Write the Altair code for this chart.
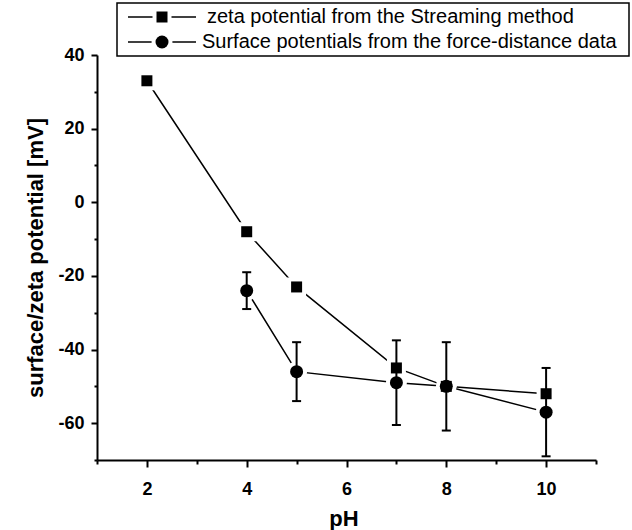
import altair as alt
import pandas as pd

# Zeta potential (streaming method) and surface potential (force-distance fits), mV
PH_ZETA = [2, 4, 5, 7, 8, 10]
ZETA_MV = [33, -8, -23, -45, -50, -52]
PH_SURF = [4, 5, 7, 8, 10]
SURF_MV = [-24, -46, -49, -50, -57]
SURF_ERR = [5, 8, 11.5, 12, 12]

SERIES = [
    "zeta potential from the Streaming method",
    "Surface potentials from the force-distance data",
]
SHAPES = ["square", "circle"]

X_MAJOR = [2, 4, 6, 8, 10]
X_MINOR = [1, 3, 5, 7, 9, 11]
Y_MAJOR = [-60, -40, -20, 0, 20, 40]
Y_MINOR = [-70, -50, -30, -10, 10, 30]

FONT = "Liberation Sans"
W, H = 499, 405

points = pd.DataFrame({
    "pH": PH_ZETA + PH_SURF,
    "mV": ZETA_MV + SURF_MV,
    "series": [SERIES[0]] * len(PH_ZETA) + [SERIES[1]] * len(PH_SURF),
})
errors = pd.DataFrame({
    "pH": PH_SURF,
    "lo": [v - e for v, e in zip(SURF_MV, SURF_ERR)],
    "hi": [v + e for v, e in zip(SURF_MV, SURF_ERR)],
})

xs = alt.Scale(domain=[1, 11], nice=False, zero=False)
ys = alt.Scale(domain=[-70, 40], nice=False, zero=False)
shape_scale = alt.Scale(domain=SERIES, range=SHAPES)
BLACK_SIZES = [121, 169]   # visible marker area (square side 11, circle 13)
HALO_SIZES = [361, 441]    # white surround that opens a gap in the lines

x_major = alt.Axis(values=X_MAJOR, orient="bottom", title="pH", tickSize=7,
                   labelPadding=13, labelExpr="datum.value",
                   titleX=W / 2 - 3, titleY=65,
                   titleBaseline="alphabetic", titleAlign="center")
y_major = alt.Axis(values=Y_MAJOR, orient="left",
                   title="surface/zeta potential [mV]", tickSize=6,
                   labelPadding=7, labelExpr="datum.value",
                   titleX=-62, titleY=H / 2,
                   titleBaseline="middle", titleAlign="center")
x_minor = alt.Axis(values=X_MINOR, orient="bottom", title=None, labels=False,
                   domain=False, tickSize=4)
y_minor = alt.Axis(values=Y_MINOR, orient="left", title=None, labels=False,
                   domain=False, tickSize=3)

base = alt.Chart(points)

lines = base.mark_line(color="black", strokeWidth=1.5).encode(
    x=alt.X("pH:Q", scale=xs, axis=x_major),
    y=alt.Y("mV:Q", scale=ys, axis=y_major),
    detail="series:N",
)

halos = base.mark_point(filled=True, color="white", opacity=1).encode(
    x=alt.X("pH:Q", scale=xs, axis=x_minor),
    y=alt.Y("mV:Q", scale=ys, axis=y_minor),
    shape=alt.Shape("series:N", scale=shape_scale, legend=None),
    size=alt.Size("series:N", scale=alt.Scale(domain=SERIES, range=HALO_SIZES),
                  legend=None),
)

markers = base.mark_point(filled=True, color="black", opacity=1).encode(
    x=alt.X("pH:Q", scale=xs, axis=None),
    y=alt.Y("mV:Q", scale=ys, axis=None),
    shape=alt.Shape("series:N", scale=shape_scale, legend=None),
    size=alt.Size("series:N", scale=alt.Scale(domain=SERIES, range=BLACK_SIZES),
                  legend=None),
)

err_base = alt.Chart(errors)
err_rule = err_base.mark_rule(color="black", strokeWidth=2).encode(
    x=alt.X("pH:Q", scale=xs, axis=None),
    y=alt.Y("lo:Q", scale=ys, axis=None),
    y2="hi:Q",
)
err_lo = err_base.mark_tick(color="black", orient="horizontal", size=9,
                            thickness=2, opacity=1).encode(
    x=alt.X("pH:Q", scale=xs, axis=None),
    y=alt.Y("lo:Q", scale=ys, axis=None),
)
err_hi = err_base.mark_tick(color="black", orient="horizontal", size=9,
                            thickness=2, opacity=1).encode(
    x=alt.X("pH:Q", scale=xs, axis=None),
    y=alt.Y("hi:Q", scale=ys, axis=None),
)

# Legend box drawn above the plot area
one = alt.Data(values=[{"k": 0}])
LEG_ROWS = [-38, -13]
SYM_X0, SYM_X1, SYM_C = 31, 99, 65
TEXT_X = [110, 105]

legend_layers = [
    alt.Chart(one).mark_rect(fill="white", stroke="black", strokeWidth=1.5).encode(
        x=alt.value(20), x2=alt.value(532), y=alt.value(-52), y2=alt.value(1)
    )
]
for i, row_y in enumerate(LEG_ROWS):
    legend_layers.append(
        alt.Chart(one).mark_rule(color="black", strokeWidth=1.5).encode(
            x=alt.value(SYM_X0), x2=alt.value(SYM_X1), y=alt.value(row_y)
        )
    )
    legend_layers.append(
        alt.Chart(one).mark_point(filled=True, color="white", opacity=1,
                                  shape=SHAPES[i], size=HALO_SIZES[i]).encode(
            x=alt.value(SYM_C), y=alt.value(row_y)
        )
    )
    legend_layers.append(
        alt.Chart(one).mark_point(filled=True, color="black", opacity=1,
                                  shape=SHAPES[i], size=BLACK_SIZES[i]).encode(
            x=alt.value(SYM_C), y=alt.value(row_y)
        )
    )
    legend_layers.append(
        alt.Chart(one).mark_text(align="left", baseline="middle", fontSize=20,
                                 font=FONT, color="black").encode(
            x=alt.value(TEXT_X[i]), y=alt.value(row_y), text=alt.value(SERIES[i])
        )
    )

chart = alt.layer(
    lines, halos, markers, err_rule, err_lo, err_hi, *legend_layers
).resolve_axis(
    x="independent", y="independent"
).resolve_scale(
    size="independent"
).properties(
    width=W,
    height=H,
    padding={"left": 97, "top": 55, "right": 632 - 97 - W, "bottom": 530 - 55 - H},
    autosize=alt.AutoSizeParams(type="none"),
    background="white",
).configure_view(
    stroke=None
).configure_axis(
    grid=False,
    domainColor="black",
    domainWidth=2,
    tickColor="black",
    tickWidth=2,
    labelColor="black",
    titleColor="black",
    labelFont=FONT,
    titleFont=FONT,
    labelFontWeight="bold",
    titleFontWeight="bold",
    labelFontSize=18,
    titleFontSize=22,
)

chart.save("out.html", embed_options={"renderer": "svg", "actions": False})
